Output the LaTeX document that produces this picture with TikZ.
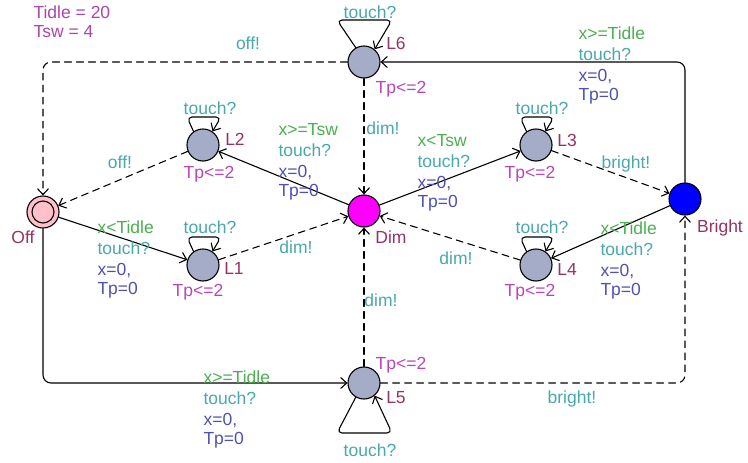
\documentclass[tikz,border=0pt]{standalone}
\usepackage{fontspec}
\setmainfont{Liberation Sans}
\usetikzlibrary{arrows.meta}
\definecolor{locfill}{RGB}{165,172,200}
\definecolor{namecol}{RGB}{150,50,100}
\definecolor{invcol}{RGB}{185,70,185}
\definecolor{grdcol}{RGB}{76,175,80}
\definecolor{synccol}{RGB}{72,168,172}
\definecolor{updcol}{RGB}{80,80,180}
\definecolor{declcol}{RGB}{170,70,170}
\definecolor{dimfill}{RGB}{255,0,255}
\definecolor{brightfill}{RGB}{0,0,255}
\definecolor{offfill}{RGB}{255,192,203}
\tikzset{
  loc/.style={circle,draw,line width=1.1pt,fill=locfill,minimum size=32pt,inner sep=0pt},
  locname/.style={text=namecol,anchor=base,inner sep=0pt},
  invlab/.style={text=invcol,anchor=base,inner sep=0pt},
  synclab/.style={text=synccol,anchor=base,inner sep=0pt},
  edgelab/.style={text=updcol,anchor=base west,align=left,inner sep=0pt},
  sendedge/.style={dash pattern=on 7pt off 5pt},
  selfloop/.style={->,rounded corners=5pt}
}
\begin{document}
\begin{tikzpicture}[line join=round,line cap=round,>={Straight Barb[length=6pt,width=11pt]},
    font=\fontsize{17.5}{21}\selectfont,x=1pt,y=-1pt,line width=1.1pt]
    \useasboundingbox (0,0) rectangle (748,463);

    \node[loc,fill=offfill] (Off) at (43,212) {};
    \draw (Off.center) circle (11pt);
    \node[loc] (L2) at (203,145) {};
    \node[loc] (L1) at (203,265) {};
    \node[loc,fill=dimfill] (Dim) at (364,211) {};
    \node[loc] (L6) at (364,62) {};
    \node[loc] (L5) at (364,383) {};
    \node[loc] (L3) at (536,145) {};
    \node[loc] (L4) at (536,265) {};
    \node[loc,fill=brightfill] (Bright) at (685,199) {};

    \node[text=declcol,anchor=base west,inner sep=0pt] (decl1) at (33,18) {Tidle = 20};
    \node[text=declcol,anchor=base west,inner sep=0pt] (decl2) at (33,37) {Tsw = 4};

    \node[locname] (nOff) at (23,243) {Off};
    \node[locname] (nL2) at (235,145) {L2};
    \node[locname] (nL1) at (234,274) {L1};
    \node[locname] (nDim) at (391,243) {Dim};
    \node[locname] (nL6) at (396,49) {L6};
    \node[locname] (nL5) at (396,403) {L5};
    \node[locname] (nL3) at (567,146) {L3};
    \node[locname] (nL4) at (567,275) {L4};
    \node[locname] (nBright) at (720,232) {Bright};

    \node[invlab] (iL2) at (209,178) {Tp<=2};
    \node[invlab] (iL1) at (198,296) {Tp<=2};
    \node[invlab] (iL6) at (401,93) {Tp<=2};
    \node[invlab] (iL5) at (401,369) {Tp<=2};
    \node[invlab] (iL3) at (530,178) {Tp<=2};
    \node[invlab] (iL4) at (530,296) {Tp<=2};

    \draw[->,sendedge,rounded corners=8pt] (L6) -- (43,62) -- (Off);
    \draw[->,sendedge] (L6) -- (Dim);
    \draw[->,sendedge] (L2) -- (Off);
    \draw[->] (Dim) -- (L2);
    \draw[->] (Off) -- (L1);
    \draw[->,sendedge] (L1) -- (Dim);
    \draw[->] (Dim) -- (L3);
    \draw[->,sendedge] (L3) -- (Bright);
    \draw[->] (Bright) -- (L4);
    \draw[->,sendedge] (L4) -- (Dim);
    \draw[->,sendedge] (L5) -- (Dim);
    \draw[->,rounded corners=8pt] (Bright) -- (685,62) -- (L6);
    \draw[->,rounded corners=8pt] (Off) -- (43,383) -- (L5);
    \draw[->,sendedge,rounded corners=8pt] (L5) -- (685,383) -- (Bright);

    \draw[selfloop] (L2.125) -- (187,117) -- (221,117) -- (L2.55);
    \draw[selfloop] (L1.125) -- (187,237) -- (221,237) -- (L1.55);
    \draw[selfloop] (L3.125) -- (520,117) -- (554,117) -- (L3.55);
    \draw[selfloop] (L4.125) -- (520,237) -- (554,237) -- (L4.55);
    \draw[selfloop] (L6.120) -- (337,20) -- (392,20) -- (L6.50);
    \draw[selfloop] (L5.240) -- (337,433) -- (392,433) -- (L5.-50);

    \node[synclab] (sL6Off) at (248,49) {off!};
    \node[synclab] (sL6Dim) at (383,134) {dim!};
    \node[synclab] (sL2Off) at (120,168) {off!};
    \node[synclab] (sL1Dim) at (296,253) {dim!};
    \node[synclab] (sL3Bright) at (626,168) {bright!};
    \node[synclab] (sL4Dim) at (456,264) {dim!};
    \node[synclab] (sL5Dim) at (381,306) {dim!};
    \node[synclab] (sL5Bright) at (572,403) {bright!};
    \node[synclab] (tL6) at (370,18) {touch?};
    \node[synclab] (tL5) at (370,456) {touch?};
    \node[synclab] (tL2) at (210,114) {touch?};
    \node[synclab] (tL1) at (210,233) {touch?};
    \node[synclab] (tL3) at (542,114) {touch?};
    \node[synclab] (tL4) at (542,233) {touch?};

    \node[edgelab] (eDimL2) at (278,196)
      {\textcolor{grdcol}{x>=Tsw}\\\textcolor{synccol}{touch?}\\x=0,\\[-2pt]Tp=0};
    \node[edgelab] (eDimL3) at (417,207)
      {\textcolor{grdcol}{x<Tsw}\\\textcolor{synccol}{touch?}\\x=0,\\[-2pt]Tp=0};
    \node[edgelab] (eBrightL6) at (578,100)
      {\textcolor{grdcol}{x>=Tidle}\\\textcolor{synccol}{touch?}\\x=0,\\[-2pt]Tp=0};
    \node[edgelab] (eOffL1) at (97,294)
      {\textcolor{grdcol}{x<Tidle}\\\textcolor{synccol}{touch?}\\x=0,\\[-2pt]Tp=0};
    \node[edgelab] (eBrightL4) at (600,295)
      {\textcolor{grdcol}{x<Tidle}\\\textcolor{synccol}{touch?}\\x=0,\\[-2pt]Tp=0};
    \node[edgelab] (eOffL5) at (203,444)
      {\textcolor{grdcol}{x>=Tidle}\\\textcolor{synccol}{touch?}\\x=0,\\[-2pt]Tp=0};
\end{tikzpicture}
\end{document}
